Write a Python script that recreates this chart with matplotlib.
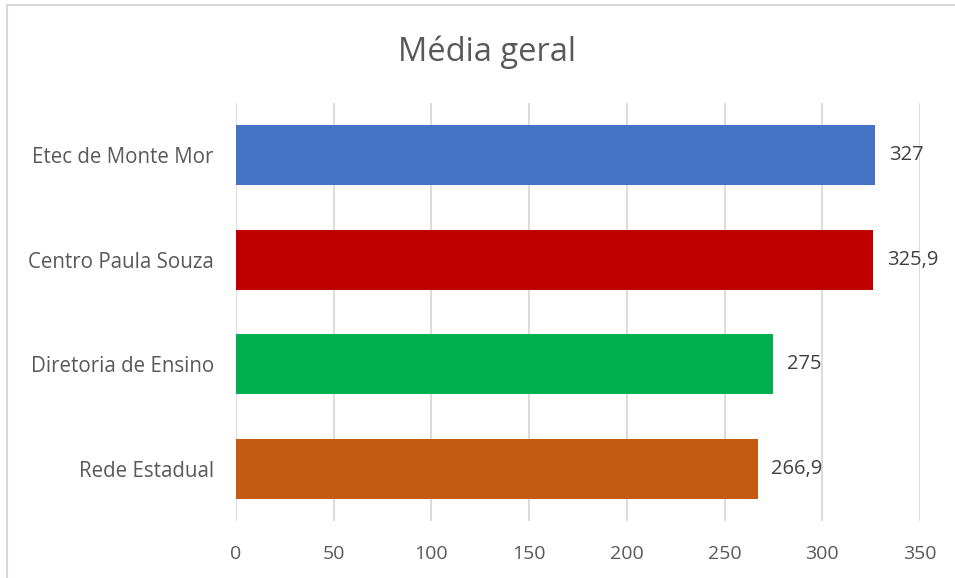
import matplotlib
matplotlib.use('Agg')
from matplotlib import pyplot as plt
from matplotlib.patches import Rectangle

categories = ["Etec de Monte Mor", "Centro Paula Souza", "Diretoria de Ensino", "Rede Estadual"]
values = [327, 325.9, 275, 266.9]
labels = ["327", "325,9", "275", "266,9"]
colors = ["#4472C4", "#C00000", "#00B050", "#C55A11"]
ticks = [0, 50, 100, 150, 200, 250, 300, 350]

plt.rcParams['font.family'] = ['Open Sans', 'DejaVu Sans']

fig = plt.figure(figsize=(9.55, 5.78), dpi=100)
ax = fig.add_axes([236 / 955, 1 - 521 / 578, (920 - 236) / 955, (521 - 103) / 578])

# chart border (only left and top visible in the picture)
fig.patches.append(Rectangle((7 / 955, -0.1), 1.2, 1 - 5 / 578 + 0.1,
                             transform=fig.transFigure, fill=False,
                             edgecolor="#D9D9D9", linewidth=1.5))

y = list(range(len(categories)))
ax.barh(y, values, height=0.57, color=colors, zorder=3)
for yi, v, lab in zip(y, values, labels):
    ax.text(v + 7, yi, lab, va='center', ha='left', fontsize=14.5, color="#404040")

ax.set_xlim(0, 350)
ax.set_ylim(len(categories) - 0.5, -0.5)
ax.set_xticks(ticks)
ax.set_xticklabels([str(t) for t in ticks])
ax.set_yticks(y)
ax.set_yticklabels(categories)
ax.tick_params(axis='x', length=0, labelsize=14, labelcolor="#595959", pad=17)
ax.tick_params(axis='y', length=0, labelsize=14.8, labelcolor="#595959", pad=16)
ax.grid(axis='x', color="#D9D9D9", linewidth=1.3, zorder=0)
for s in ax.spines.values():
    s.set_visible(False)

fig.text(487 / 955, 1 - 52 / 578, "Média geral", ha='center', va='center',
         fontsize=23.5, color="#595959")

fig.savefig("out.png", dpi=100)
